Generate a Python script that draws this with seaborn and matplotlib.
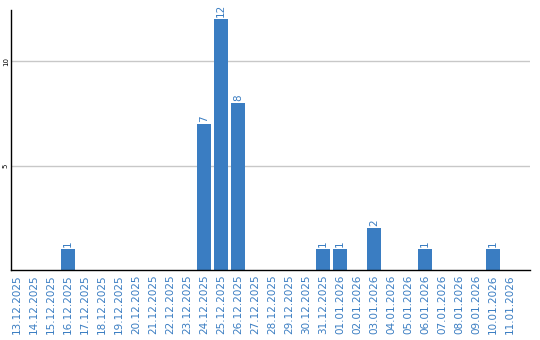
import matplotlib
matplotlib.use("Agg")
import matplotlib.pyplot as plt
import seaborn as sns
import pandas as pd

dates = ["13.12.2025", "14.12.2025", "15.12.2025", "16.12.2025", "17.12.2025",
         "18.12.2025", "19.12.2025", "20.12.2025", "21.12.2025", "22.12.2025",
         "23.12.2025", "24.12.2025", "25.12.2025", "26.12.2025", "27.12.2025",
         "28.12.2025", "29.12.2025", "30.12.2025", "31.12.2025", "01.01.2026",
         "02.01.2026", "03.01.2026", "04.01.2026", "05.01.2026", "06.01.2026",
         "07.01.2026", "08.01.2026", "09.01.2026", "10.01.2026", "11.01.2026"]
counts = [0, 0, 0, 1, 0, 0, 0, 0, 0, 0, 0, 7, 12, 8, 0, 0, 0, 0, 1, 1,
          0, 2, 0, 0, 1, 0, 0, 0, 1, 0]
yticks = [5, 10]

df = pd.DataFrame({"date": dates, "count": counts})

sns.set_theme(style="white")
plt.rcParams['font.family'] = ['DejaVu Sans']
blue = "#3a7dc2"

fig = plt.figure(figsize=(5.4, 3.4), dpi=100)
ax = fig.add_axes([11/540, 70/340, 519/540, 260/340])
sns.barplot(data=df, x="date", y="count", color=blue, saturation=1,
            width=0.82, ax=ax, edgecolor="none")

ax.set_xlim(-0.35, 30.18)
ax.set_ylim(0, 12.45)
ax.set_yticks(yticks)
ax.set_yticklabels([str(v) for v in yticks], rotation=90, fontsize=5,
                   va="center", color="black")
ax.yaxis.grid(True, color="#c8c8c8", linewidth=1)
ax.set_axisbelow(True)
ax.tick_params(axis="y", length=0, pad=1.5)
ax.tick_params(axis="x", length=0, labelsize=7.5, labelcolor=blue, rotation=90, pad=3)
ax.set_xlabel("")
ax.set_ylabel("")
for s in ["top", "right"]:
    ax.spines[s].set_visible(False)
for s in ["left", "bottom"]:
    ax.spines[s].set_color("black")
    ax.spines[s].set_linewidth(1)

for i, v in enumerate(counts):
    if v > 0:
        ax.text(i, v + 0.1, str(v), rotation=90, ha="center", va="bottom",
                fontsize=7.5, color=blue)

fig.savefig("out.png", dpi=100)
